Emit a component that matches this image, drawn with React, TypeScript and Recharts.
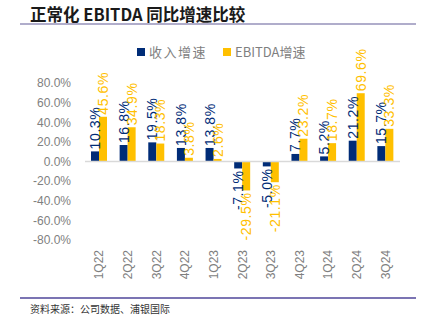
import React from 'react';
import { BarChart, Bar, XAxis, YAxis, ReferenceLine, LabelList } from 'recharts';

const quarters = ['1Q22', '2Q22', '3Q22', '4Q22', '1Q23', '2Q23', '3Q23', '4Q23', '1Q24', '2Q24', '3Q24'];
const revenueGrowth = [10.3, 16.8, 19.5, 13.8, 13.8, -7.1, -5.0, 7.7, 5.2, 21.2, 15.7];
const ebitdaGrowth = [45.6, 34.9, 18.3, 3.8, 2.6, -29.5, -21.1, 23.2, 18.7, 69.6, 33.3];
const yTicks = [-80, -60, -40, -20, 0, 20, 40, 60, 80];

const NAVY = '#002C77';
const YELLOW = '#FFC000';
const GREY = '#7F7F7F';

const data = quarters.map((q, i) => ({ q, rev: revenueGrowth[i], ebitda: ebitdaGrowth[i] }));

const pct = (v: number) => `${v.toFixed(1)}%`;

// rotated value label, sits above positive bars and below negative ones
const makeLabel = (color: string) => (props: any) => {
  const { x, y, width, height, value } = props;
  const cx = Number(x) + Number(width) / 2;
  const top = Math.min(Number(y), Number(y) + Number(height));
  const bottom = Math.max(Number(y), Number(y) + Number(height));
  const pos = Number(value) >= 0;
  const ty = pos ? top - 2 : bottom + 2;
  return (
    <text
      x={cx}
      y={ty}
      transform={`rotate(-90 ${cx} ${ty})`}
      textAnchor={pos ? 'start' : 'end'}
      dominantBaseline="central"
      fill={color}
      fontSize={14}
      letterSpacing={0.6}
      fontFamily="'Liberation Sans', Arial, sans-serif"
    >
      {pct(Number(value))}
    </text>
  );
};

const QuarterTick = (props: any) => {
  const { x, y, payload } = props;
  return (
    <text
      x={x}
      y={y}
      transform={`rotate(-90 ${x} ${y})`}
      textAnchor="end"
      dominantBaseline="central"
      fill={GREY}
      fontSize={12}
      fontFamily="'Liberation Sans', Arial, sans-serif"
    >
      {payload.value}
    </text>
  );
};

export default function App() {
  return (
    <div style={{ position: 'absolute', left: 0, top: 0, width: 424, height: 331, background: '#fff' }}>
      <div
        style={{
          position: 'absolute', left: 30, top: 3, fontSize: 16.5, fontWeight: 700, color: '#1a1a1a',
          fontFamily: "'Noto Sans CJK SC', sans-serif", lineHeight: '22px', whiteSpace: 'nowrap',
        }}
      >
        正常化 EBITDA 同比增速比较
      </div>
      <div style={{ position: 'absolute', left: 20, top: 23, width: 396, height: 2, background: '#B0ADCB' }} />
      <div
        style={{
          position: 'absolute', left: 137, top: 43, display: 'flex', fontSize: 13, color: GREY, lineHeight: '18px',
          fontFamily: "'Noto Sans CJK SC', sans-serif", whiteSpace: 'nowrap',
        }}
      >
        <span style={{ display: 'flex', alignItems: 'center', marginRight: 16 }}>
          <span style={{ width: 8, height: 8, background: NAVY, marginRight: 4 }} />
          <span style={{ letterSpacing: 1.5 }}>收入增速</span>
        </span>
        <span style={{ display: 'flex', alignItems: 'center' }}>
          <span style={{ width: 8, height: 8, background: YELLOW, marginRight: 4 }} />
          <span>EBITDA增速</span>
        </span>
      </div>
      <div style={{ position: 'absolute', left: 0, top: 0 }}>
        <BarChart width={424} height={331} data={data} barGap={0} barSize={8}
          margin={{ top: 83, right: 24, left: 5, bottom: 46 }}>
          <ReferenceLine y={0} stroke="#D9D9D9" strokeWidth={1.5} />
          <XAxis dataKey="q" axisLine={false} tickLine={false} height={45} interval={0} tickMargin={4} tick={<QuarterTick />} />
          <YAxis domain={[-80, 80]} ticks={yTicks} interval={0} width={80} axisLine={false} tickLine={false} tickSize={6} tickMargin={8}
            tickFormatter={pct} tick={{ fill: GREY, fontSize: 12, fontFamily: "'Liberation Sans', Arial, sans-serif" }} />
          <Bar dataKey="rev" fill={NAVY} isAnimationActive={false}>
            <LabelList dataKey="rev" content={makeLabel(NAVY)} />
          </Bar>
          <Bar dataKey="ebitda" fill={YELLOW} isAnimationActive={false}>
            <LabelList dataKey="ebitda" content={makeLabel(YELLOW)} />
          </Bar>
        </BarChart>
      </div>
      <div style={{ position: 'absolute', left: 20, top: 297, width: 396, height: 2, background: '#7B74B3' }} />
      <div
        style={{
          position: 'absolute', left: 30, top: 302, fontSize: 10, color: '#333',
          fontFamily: "'Noto Sans CJK SC', sans-serif", lineHeight: '14px', whiteSpace: 'nowrap',
        }}
      >
        资料来源：公司数据、浦银国际
      </div>
    </div>
  );
}
